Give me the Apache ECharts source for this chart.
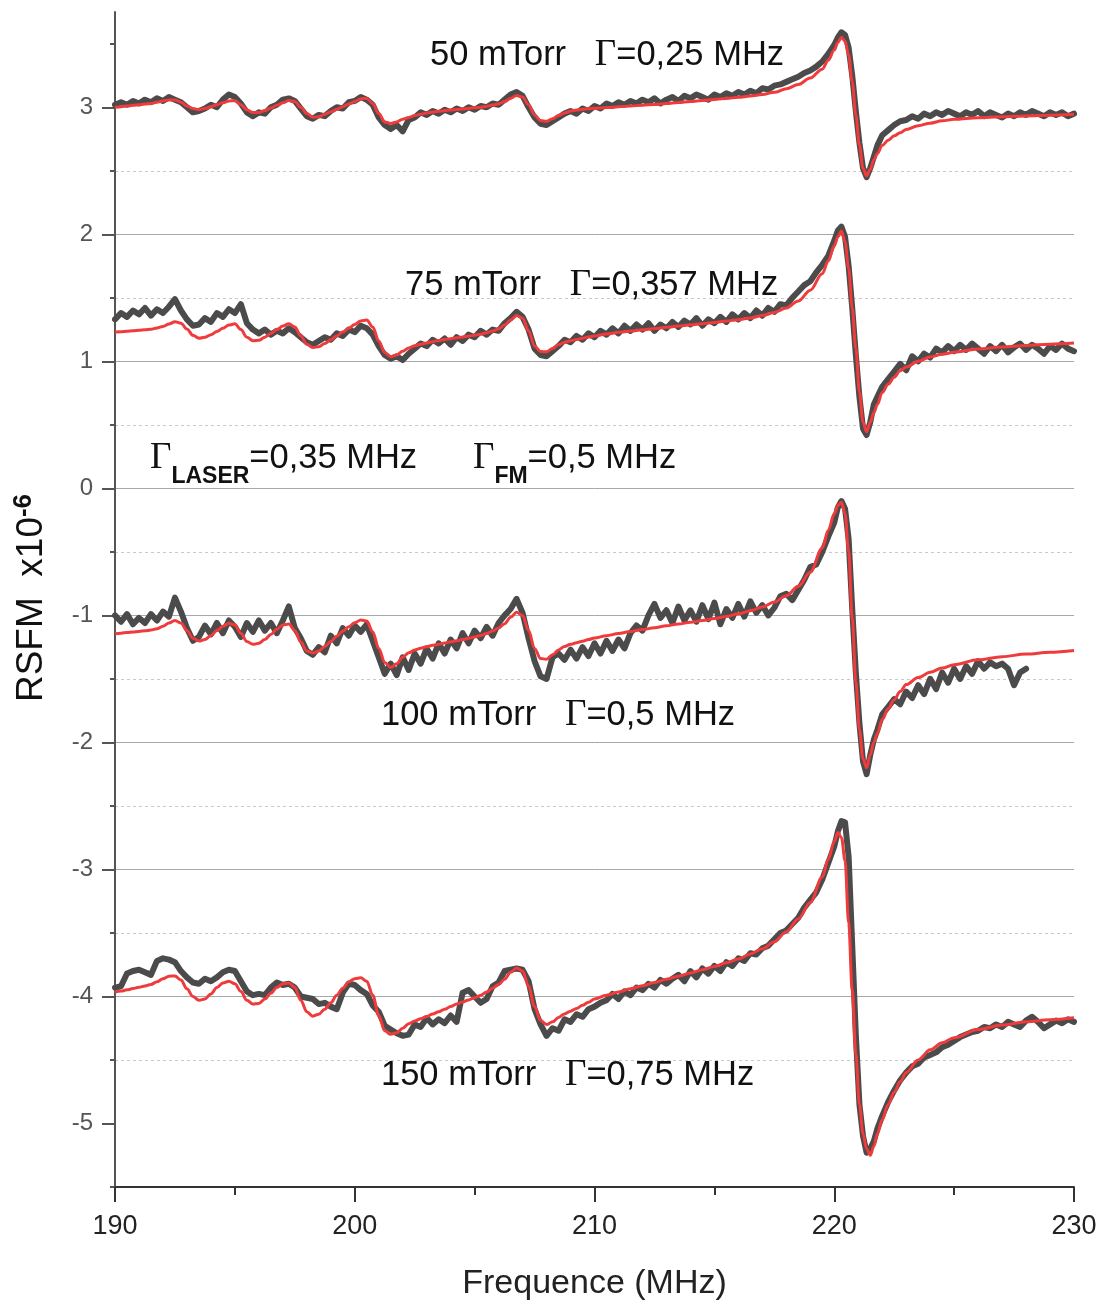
<!DOCTYPE html>
<html>
<head>
<meta charset="utf-8">
<script src="https://cdn.jsdelivr.net/npm/echarts@6/dist/echarts.min.js"></script>
<style>
html,body{margin:0;padding:0;background:#fff;}
#chart{width:1102px;height:1306px;}
</style>
</head>
<body>
<div id="chart"></div>
<script>
// ---------- axis ticks ----------
const yMajorTicks = [-5, -4, -3, -2, -1, 0, 1, 2, 3];
const yMinorTicks = [-5.5, -4.5, -3.5, -2.5, -1.5, -0.5, 0.5, 1.5, 2.5, 3.5];

// ---------- measured data (frequency grid, MHz) ----------
const dataFreq = [
  190,190.25,190.5,190.75, 191,191.25,191.5,191.75, 192,192.25,192.5,192.75, 193,193.25,193.5,193.75,
  194,194.25,194.5,194.75, 195,195.25,195.5,195.75, 196,196.25,196.5,196.75, 197,197.25,197.5,197.75,
  198,198.25,198.5,198.75, 199,199.25,199.5,199.75, 200,200.25,200.5,200.75, 201,201.25,201.5,201.75,
  202,202.25,202.5,202.75, 203,203.25,203.5,203.75, 204,204.25,204.5,204.75, 205,205.25,205.5,205.75,
  206,206.25,206.5,206.75, 207,207.25,207.5,207.75, 208,208.25,208.5,208.75, 209,209.25,209.5,209.75,
  210,210.25,210.5,210.75, 211,211.25,211.5,211.75, 212,212.25,212.5,212.75, 213,213.25,213.5,213.75,
  214,214.25,214.5,214.75, 215,215.25,215.5,215.75, 216,216.25,216.5,216.75, 217,217.25,217.5,217.75,
  218,218.25,218.5,218.75, 219,219.25,219.5,
  219.75,220,220.15,220.3,220.45,220.6,220.75,220.9,221.05,221.2,221.35,221.5,221.65,221.8,222,
  222.25,222.5,222.75, 223,223.25,223.5,223.75, 224,224.25,224.5,224.75, 225,225.25,225.5,225.75,
  226,226.25,226.5,226.75, 227,227.25,227.5,227.75, 228,228.25,228.5,228.75, 229,229.25,229.5,229.75, 230
];

const data50 = [
  3.02,3.04,3.02,3.05, 3.03,3.06,3.04,3.07, 3.05,3.08,3.06,3.04, 3.00,2.96,2.97,2.99,
  3.02,3.00,3.06,3.10, 3.08,3.03,2.96,2.93, 2.96,2.95,3.00,3.02, 3.06,3.07,3.05,2.99,
  2.93,2.91,2.94,2.93, 2.97,3.00,2.99,3.04, 3.05,3.08,3.06,3.02, 2.92,2.86,2.83,2.86,
  2.81,2.90,2.92,2.96, 2.94,2.97,2.95,2.98, 2.96,2.99,2.97,3.00, 2.98,3.01,3.00,3.03,
  3.02,3.06,3.10,3.12, 3.09,3.00,2.92,2.87, 2.86,2.89,2.92,2.95, 2.97,2.95,2.99,2.97,
  3.01,2.99,3.03,3.01, 3.04,3.02,3.05,3.03, 3.06,3.04,3.07,3.03, 3.06,3.08,3.05,3.09,
  3.07,3.10,3.08,3.06, 3.10,3.08,3.11,3.09, 3.12,3.10,3.13,3.11, 3.15,3.14,3.17,3.18,
  3.20,3.22,3.24,3.27, 3.29,3.32,3.36,
  3.42,3.49,3.55,3.59,3.57,3.47,3.25,2.97,2.72,2.52,2.45,2.52,2.61,2.70,2.78,
  2.82,2.86,2.89, 2.90,2.93,2.91,2.95, 2.93,2.96,2.94,2.97, 2.95,2.93,2.96,2.94,
  2.97,2.93,2.96,2.94, 2.92,2.95,2.93,2.96, 2.94,2.97,2.95,2.93, 2.96,2.94,2.96,2.93, 2.95
];

const data75 = [
  1.33,1.38,1.35,1.40, 1.37,1.42,1.36,1.41, 1.38,1.43,1.49,1.40, 1.33,1.28,1.29,1.34,
  1.31,1.38,1.35,1.41, 1.38,1.45,1.30,1.25, 1.22,1.25,1.21,1.24, 1.22,1.26,1.23,1.19,
  1.15,1.13,1.16,1.19, 1.17,1.22,1.20,1.25, 1.23,1.28,1.26,1.21, 1.12,1.05,1.02,1.04,
  1.01,1.06,1.10,1.14, 1.12,1.17,1.14,1.18, 1.13,1.19,1.16,1.21, 1.19,1.24,1.21,1.25,
  1.24,1.30,1.34,1.39, 1.35,1.25,1.10,1.05, 1.04,1.08,1.12,1.17, 1.15,1.20,1.17,1.22,
  1.19,1.24,1.21,1.26, 1.22,1.28,1.24,1.29, 1.25,1.30,1.24,1.29, 1.26,1.31,1.27,1.32,
  1.29,1.34,1.28,1.33, 1.30,1.35,1.31,1.37, 1.33,1.38,1.34,1.40, 1.36,1.42,1.39,1.45,
  1.44,1.50,1.55,1.60, 1.63,1.70,1.76,
  1.83,1.95,2.03,2.06,1.98,1.75,1.42,1.05,0.72,0.47,0.42,0.52,0.66,0.72,0.80,
  0.86,0.92,0.98, 0.93,1.04,1.00,1.06, 1.03,1.10,1.07,1.12, 1.08,1.13,1.09,1.14,
  1.10,1.06,1.12,1.08, 1.13,1.07,1.11,1.14, 1.09,1.13,1.10,1.06, 1.12,1.09,1.14,1.10, 1.08
];

const data100 = [
  -1.00,-1.05,-0.99,-1.07, -1.02,-1.06,-0.99,-1.04, -0.97,-1.01,-0.86,-0.97, -1.10,-1.20,-1.17,-1.08,
  -1.15,-1.06,-1.14,-1.04, -1.09,-1.17,-1.06,-1.13, -1.04,-1.12,-1.06,-1.14, -1.04,-0.93,-1.10,-1.18,
  -1.28,-1.31,-1.25,-1.29, -1.16,-1.22,-1.10,-1.16, -1.08,-1.13,-1.07,-1.20, -1.33,-1.46,-1.38,-1.47,
  -1.33,-1.43,-1.30,-1.38, -1.26,-1.34,-1.22,-1.30, -1.19,-1.26,-1.14,-1.22, -1.12,-1.18,-1.09,-1.16,
  -1.06,-1.00,-0.95,-0.87, -0.98,-1.18,-1.36,-1.48, -1.50,-1.33,-1.30,-1.35, -1.27,-1.34,-1.25,-1.32,
  -1.22,-1.30,-1.20,-1.28, -1.19,-1.26,-1.14,-1.08, -1.12,-1.00,-0.91,-1.02, -0.96,-1.06,-0.93,-1.04,
  -0.96,-1.05,-0.92,-1.03, -0.90,-1.07,-0.95,-1.02, -0.91,-1.01,-0.89,-0.98, -0.92,-1.00,-0.94,-0.85,
  -0.83,-0.88,-0.80,-0.72, -0.62,-0.60,-0.50,
  -0.38,-0.27,-0.15,-0.10,-0.16,-0.40,-0.95,-1.45,-1.85,-2.15,-2.25,-2.10,-1.98,-1.90,-1.78,
  -1.72,-1.66,-1.70, -1.60,-1.65,-1.55,-1.62, -1.50,-1.58,-1.45,-1.53, -1.42,-1.50,-1.40,-1.46,
  -1.36,-1.42,-1.37,-1.40, -1.38,-1.42,-1.55,-1.45, -1.42
];

const data150 = [
  -3.93,-3.92,-3.82,-3.80, -3.79,-3.81,-3.83,-3.72, -3.70,-3.71,-3.73,-3.80, -3.85,-3.89,-3.90,-3.86,
  -3.88,-3.85,-3.81,-3.79, -3.80,-3.88,-3.96,-3.99, -3.98,-3.99,-3.93,-3.89, -3.91,-3.90,-3.93,-4.00,
  -4.01,-4.02,-4.06,-4.05, -4.08,-4.10,-3.97,-3.90, -3.91,-3.95,-3.98,-4.07, -4.12,-4.23,-4.26,-4.29,
  -4.31,-4.30,-4.22,-4.24, -4.17,-4.22,-4.18,-4.21, -4.15,-4.20,-3.97,-3.95, -4.00,-4.05,-4.02,-3.92,
  -3.89,-3.80,-3.79,-3.78, -3.79,-3.88,-4.10,-4.22, -4.31,-4.25,-4.27,-4.18, -4.20,-4.14,-4.16,-4.10,
  -4.08,-4.05,-4.03,-3.98, -4.02,-3.96,-3.99,-3.93, -3.95,-3.90,-3.93,-3.87, -3.90,-3.86,-3.83,-3.88,
  -3.80,-3.85,-3.78,-3.82, -3.76,-3.80,-3.73,-3.76, -3.70,-3.72,-3.66,-3.67, -3.62,-3.60,-3.55,-3.50,
  -3.48,-3.43,-3.38,-3.30, -3.24,-3.18,-3.08,
  -2.95,-2.82,-2.70,-2.62,-2.63,-2.90,-3.60,-4.30,-4.85,-5.10,-5.23,-5.20,-5.14,-5.04,-4.94,
  -4.83,-4.74,-4.66, -4.60,-4.55,-4.53,-4.48, -4.46,-4.44,-4.40,-4.38, -4.35,-4.32,-4.30,-4.28,
  -4.27,-4.24,-4.25,-4.22, -4.24,-4.20,-4.22,-4.24, -4.19,-4.16,-4.20,-4.25, -4.22,-4.19,-4.21,-4.18, -4.20
];

// ---------- fitted curves (frequency grid, MHz) ----------
const fitFreq = [
  190,190.25,190.5,190.75, 191,191.25,191.5,191.75, 192,192.25,192.5,192.75, 193,193.25,193.5,193.75,
  194,194.25,194.5,194.75, 195,195.25,195.5,195.75, 196,196.25,196.5,196.75, 197,197.25,197.5,197.75,
  198,198.25,198.5,198.75, 199,199.25,199.5,199.75, 200,200.25,200.5,200.75, 201,201.25,201.5,201.75,
  202,202.25,202.5,202.75, 203,203.25,203.5,203.75, 204,204.25,204.5,204.75, 205,205.25,205.5,205.75,
  206,206.25,206.5,206.75, 207,207.25,207.5,207.75, 208,208.25,208.5,208.75, 209,209.25,209.5,209.75, 210,
  210.5,211,211.5,212,212.5,213,213.5,214,214.5,215,215.5,216,216.5,217,217.5,218,218.5,219,219.5,
  219.75,220,220.15,220.3,220.45,220.6,220.75,220.9,221.05,221.2,221.35,221.5,221.65,221.8,222,
  222.25,222.5,222.75,223,223.5,224,224.5,225,226,227,228,229,230
];

const fit50 = [
  3.000,3.005,3.010,3.015, 3.020,3.025,3.030,3.040, 3.050,3.058,3.058,3.040, 3.010,2.990,2.980,2.990,
  3.005,3.020,3.035,3.050, 3.052,3.020,2.980,2.958, 2.958,2.975,2.995,3.015, 3.035,3.053,3.045,3.000,
  2.950,2.922,2.925,2.945, 2.965,2.985,3.005,3.025, 3.045,3.068,3.070,3.030, 2.950,2.885,2.872,2.885,
  2.905,2.920,2.935,2.945, 2.955,2.962,2.968,2.974, 2.978,2.982,2.987,2.991, 2.996,3.000,3.008,3.017,
  3.027,3.045,3.070,3.093, 3.080,3.020,2.940,2.895, 2.890,2.910,2.935,2.955, 2.970,2.978,2.984,2.988, 2.992,
  2.998,3.004,3.010,3.016,3.022,3.030,3.038,3.046,3.054,3.062,3.070,3.078,3.088,3.100,3.118,3.145,3.180,3.230,3.300,
  3.37,3.45,3.51,3.55,3.52,3.41,3.20,2.94,2.70,2.52,2.46,2.51,2.585,2.635,2.70,
  2.74,2.775,2.80,2.825,2.855,2.875,2.893,2.905,2.918,2.925,2.932,2.938,2.945
];

const fit75 = [
  1.230,1.233,1.236,1.240, 1.244,1.248,1.253,1.262, 1.275,1.293,1.312,1.300, 1.255,1.205,1.182,1.190,
  1.210,1.235,1.260,1.285, 1.295,1.250,1.190,1.162, 1.165,1.190,1.220,1.250, 1.278,1.296,1.270,1.200,
  1.135,1.108,1.115,1.140, 1.170,1.200,1.230,1.260, 1.290,1.318,1.325,1.270, 1.160,1.070,1.036,1.050,
  1.080,1.105,1.122,1.135, 1.145,1.155,1.163,1.171, 1.178,1.185,1.192,1.199, 1.206,1.214,1.224,1.238,
  1.255,1.285,1.325,1.360, 1.340,1.240,1.120,1.077, 1.075,1.100,1.130,1.150, 1.162,1.172,1.182,1.192, 1.200,
  1.215,1.228,1.238,1.248,1.258,1.268,1.278,1.287,1.296,1.306,1.317,1.328,1.342,1.360,1.385,1.420,1.475,1.560,1.690,
  1.79,1.91,1.98,2.025,1.94,1.73,1.42,1.10,0.76,0.52,0.445,0.52,0.595,0.66,0.755,
  0.82,0.875,0.925,0.955,1.0,1.034,1.055,1.072,1.098,1.113,1.125,1.135,1.144
];

const fit100 = [
  -1.144,-1.140,-1.135,-1.130, -1.126,-1.121,-1.116,-1.105, -1.085,-1.060,-1.040,-1.060, -1.120,-1.180,-1.202,-1.190,
  -1.160,-1.120,-1.085,-1.062, -1.075,-1.140,-1.205,-1.228, -1.220,-1.190,-1.150,-1.110, -1.075,-1.068,-1.120,-1.210,
  -1.280,-1.297,-1.280,-1.245, -1.205,-1.165,-1.125,-1.090, -1.058,-1.036,-1.045,-1.130, -1.260,-1.370,-1.410,-1.380,
  -1.330,-1.295,-1.273,-1.258, -1.246,-1.236,-1.227,-1.218, -1.208,-1.199,-1.190,-1.181, -1.170,-1.158,-1.142,-1.122,
  -1.100,-1.065,-1.015,-0.976, -1.000,-1.120,-1.260,-1.340, -1.345,-1.310,-1.272,-1.245, -1.228,-1.215,-1.203,-1.190, -1.178,
  -1.160,-1.143,-1.127,-1.112,-1.097,-1.082,-1.068,-1.054,-1.040,-1.025,-1.008,-0.988,-0.963,-0.935,-0.895,-0.845,-0.770,-0.660,-0.470,
  -0.33,-0.20,-0.135,-0.11,-0.20,-0.50,-1.02,-1.52,-1.90,-2.13,-2.20,-2.10,-2.00,-1.93,-1.82,
  -1.735,-1.665,-1.60,-1.545,-1.49,-1.448,-1.415,-1.388,-1.35,-1.325,-1.305,-1.29,-1.276
];

const fit150 = [
  -3.966,-3.958,-3.948,-3.938, -3.928,-3.918,-3.905,-3.885, -3.860,-3.840,-3.838,-3.870, -3.940,-4.000,-4.030,-4.020,
  -3.980,-3.930,-3.895,-3.880, -3.900,-3.960,-4.030,-4.060, -4.055,-4.020,-3.975,-3.930, -3.900,-3.895,-3.930,-4.030,
  -4.120,-4.155,-4.140,-4.100, -4.050,-3.990,-3.935,-3.885, -3.860,-3.853,-3.880,-3.990, -4.150,-4.270,-4.298,-4.285,
  -4.250,-4.215,-4.193,-4.175, -4.157,-4.138,-4.120,-4.100, -4.080,-4.060,-4.043,-4.027, -4.010,-3.990,-3.965,-3.935,
  -3.905,-3.865,-3.810,-3.776, -3.800,-3.920,-4.080,-4.190, -4.220,-4.200,-4.165,-4.138, -4.116,-4.095,-4.070,-4.045, -4.020,
  -3.990,-3.965,-3.940,-3.915,-3.890,-3.865,-3.840,-3.815,-3.790,-3.765,-3.735,-3.705,-3.665,-3.625,-3.570,-3.490,-3.390,-3.260,-3.060,
  -2.92,-2.78,-2.71,-2.75,-2.93,-3.42,-3.95,-4.45,-4.85,-5.08,-5.20,-5.25,-5.18,-5.08,-4.97,
  -4.85,-4.755,-4.67,-4.60,-4.50,-4.42,-4.365,-4.325,-4.26,-4.225,-4.20,-4.183,-4.168
];

// ---------- annotation texts ----------
const labelTexts = {
  p50: ['50 mTorr   ', 'Γ', '=0,25 MHz'],
  p75: ['75 mTorr   ', 'Γ', '=0,357 MHz'],
  p100: ['100 mTorr   ', 'Γ', '=0,5 MHz'],
  p150: ['150 mTorr   ', 'Γ', '=0,75 MHz'],
  laser: ['Γ', 'LASER', '=0,35 MHz'],
  fm: ['Γ', 'FM', '=0,5 MHz']
};

const zip = (xs, ys) => ys.map((y, i) => [xs[i], y]);

const SANS = "'Liberation Sans', Arial, sans-serif";
const SERIF = "'Liberation Serif', 'Times New Roman', serif";
const DARK = '#4b4b4b';
const RED = '#ef3b3b';

function pressureLabel(parts, x, y) {
  return {
    type: 'text', x: x, y: y, z: 100,
    style: {
      text: '{a|' + parts[0] + '}{g|' + parts[1] + '}{a|' + parts[2] + '}',
      align: 'left', verticalAlign: 'middle',
      rich: {
        a: { fontFamily: SANS, fontSize: 34.5, fill: '#111', lineHeight: 40 },
        g: { fontFamily: SERIF, fontSize: 37, fill: '#111', lineHeight: 40 }
      }
    }
  };
}
function subLabel(parts, x, y) {
  return {
    type: 'text', x: x, y: y, z: 100,
    style: {
      text: '{g|' + parts[0] + '}{s|' + parts[1] + '}{a|' + parts[2] + '}',
      align: 'left', verticalAlign: 'middle',
      rich: {
        a: { fontFamily: SANS, fontSize: 34.5, fill: '#111', lineHeight: 60 },
        g: { fontFamily: SERIF, fontSize: 37, fill: '#111', lineHeight: 60 },
        s: { fontFamily: SANS, fontSize: 23, fontWeight: 'bold', fill: '#111', lineHeight: 12, verticalAlign: 'bottom' }
      }
    }
  };
}

const chart = echarts.init(document.getElementById('chart'), null, { renderer: 'canvas' });

const darkStyle = { color: DARK, width: 6, join: 'round', cap: 'round' };
const redStyle = { color: RED, width: 3, join: 'round' };

function darkSeries(name, ys) {
  return { name: name, type: 'line', data: zip(dataFreq, ys), showSymbol: false, symbol: 'none',
    lineStyle: darkStyle, itemStyle: { color: DARK }, z: 2, silent: true };
}
function fitSeries(name, ys) {
  return { name: name, type: 'line', data: zip(fitFreq, ys), showSymbol: false, symbol: 'none',
    smooth: 0.35, smoothMonotone: 'x', lineStyle: redStyle, itemStyle: { color: RED }, z: 3, silent: true };
}

const option = {
  animation: false,
  backgroundColor: '#ffffff',
  grid: { left: 115, right: 28, top: 12, bottom: 119, containLabel: false },
  xAxis: [
    {
      type: 'value', min: 190, max: 230, interval: 10, position: 'bottom',
      axisLine: { show: true, onZero: false, lineStyle: { color: '#333', width: 2 } },
      axisTick: { show: true, length: 15, lineStyle: { color: '#333', width: 2 } },
      axisLabel: { show: true, margin: 26, fontSize: 27, color: '#222', fontFamily: SANS },
      splitLine: { show: false },
      name: 'Frequence (MHz)', nameLocation: 'middle', nameGap: 80,
      nameTextStyle: { fontSize: 34, color: '#222', fontFamily: SANS }
    },
    {
      type: 'value', min: 190, max: 230, interval: 5, position: 'bottom',
      axisLine: { show: false, onZero: false },
      axisTick: { show: true, length: 8, lineStyle: { color: '#333', width: 2 } },
      axisLabel: { show: false },
      splitLine: { show: false }
    }
  ],
  yAxis: [
    {
      type: 'value', min: -5.5, max: 3.75, interval: 0.5, position: 'left',
      axisLine: { show: true, onZero: false, lineStyle: { color: '#555', width: 2 } },
      axisTick: { show: true, length: 5, customValues: yMinorTicks, lineStyle: { color: '#555', width: 2 } },
      axisLabel: { show: false },
      splitLine: { show: true, showMinLine: false, showMaxLine: false, lineStyle: { color: '#c9c9c9', width: 1, type: [3, 3] } }
    },
    {
      type: 'value', min: -5.5, max: 3.75, interval: 0.5, position: 'left',
      axisLine: { show: false, onZero: false },
      axisTick: { show: true, length: 13, customValues: yMajorTicks, lineStyle: { color: '#555', width: 2 } },
      axisLabel: { show: true, customValues: yMajorTicks, margin: 22, fontSize: 24, color: '#555', fontFamily: SANS,
        formatter: function (v) { return String(v); } },
      splitLine: { show: true, showMinLine: false, showMaxLine: false, lineStyle: { color: '#a8a8a8', width: 1, type: 'solid' } }
    }
  ],
  series: [
    darkSeries('50 mTorr data', data50),
    darkSeries('75 mTorr data', data75),
    darkSeries('100 mTorr data', data100),
    darkSeries('150 mTorr data', data150),
    fitSeries('50 mTorr fit', fit50),
    fitSeries('75 mTorr fit', fit75),
    fitSeries('100 mTorr fit', fit100),
    fitSeries('150 mTorr fit', fit150)
  ],
  graphic: [
    pressureLabel(labelTexts.p50, 430, 55),
    pressureLabel(labelTexts.p75, 405, 285),
    pressureLabel(labelTexts.p100, 381, 715),
    pressureLabel(labelTexts.p150, 381, 1075),
    subLabel(labelTexts.laser, 150, 458),
    subLabel(labelTexts.fm, 473, 458),
    {
      type: 'text', x: 32, y: 598, rotation: Math.PI / 2, z: 100,
      style: {
        text: '{a|RSFM  x10}{s|-6}',
        align: 'center', verticalAlign: 'middle',
        rich: {
          a: { fontFamily: SANS, fontSize: 37, fill: '#111', lineHeight: 42 },
          s: { fontFamily: SANS, fontSize: 26, fontWeight: 'bold', fill: '#111', lineHeight: 22, verticalAlign: 'top' }
        }
      }
    }
  ]
};
chart.setOption(option);
</script>
</body>
</html>
